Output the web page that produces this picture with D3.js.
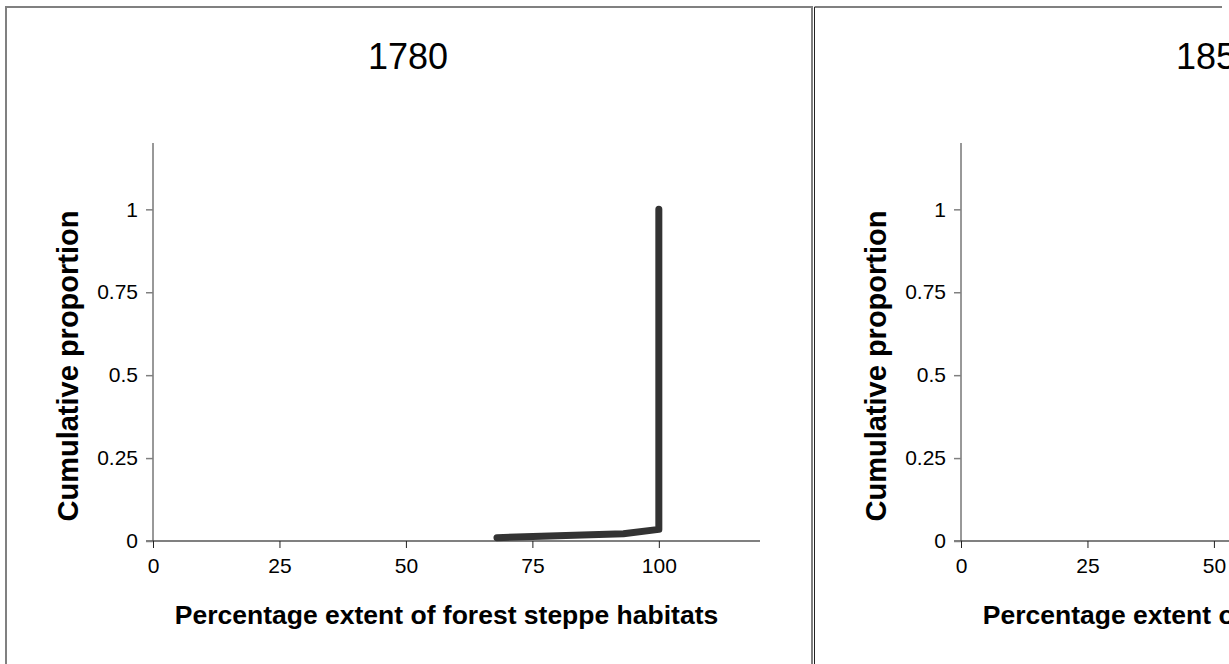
<!DOCTYPE html>
<html>
<head>
<meta charset="utf-8">
<script src="https://cdn.jsdelivr.net/npm/d3@7"></script>
<style>
  body { margin: 0; background: #fff; }
  text { font-family: "Liberation Sans", Arial, sans-serif; fill: #000; }
</style>
</head>
<body>
<svg id="chart" width="1229" height="664"></svg>
<script>
// panel titles (years)
var years = ["1780", "1850"];

// cumulative curve for 1780 (x = % extent, y = cumulative proportion)
var ext1780 = [68, 80, 93, 100, 100];
var cum1780 = [0.01, 0.016, 0.022, 0.035, 1];

// 1850 curve lies outside the visible part of the picture
var ext1850 = [];
var cum1850 = [];

var xTicks = [0, 25, 50, 75, 100];
var yTicks = [0, 0.25, 0.5, 0.75, 1];
var xLabel = "Percentage extent of forest steppe habitats";
var yLabel = "Cumulative proportion";

var series = [
  d3.zip(ext1780, cum1780),
  d3.zip(ext1850, cum1850)
];

var svg = d3.select("#chart");

var panelLeft = [6, 814],
    panelTop = 7,
    plotLeft = 147, plotRight = 754,
    plotTop = 143, plotBottom = 541;

var x = d3.scaleLinear().domain([0, 120]).range([plotLeft, plotRight]);
var y = d3.scaleLinear().domain([0, 1.2]).range([plotBottom, plotTop]);

// panel frames
svg.append("rect")
    .attr("x", panelLeft[0]).attr("y", panelTop)
    .attr("width", 806).attr("height", 700)
    .attr("fill", "none").attr("stroke", "#808080").attr("stroke-width", 2);
svg.append("line")
    .attr("x1", panelLeft[1] + 0.5).attr("x2", 1222)
    .attr("y1", panelTop).attr("y2", panelTop)
    .attr("stroke", "#808080").attr("stroke-width", 2);
svg.append("line")
    .attr("x1", panelLeft[1] + 0.5).attr("x2", panelLeft[1] + 0.5)
    .attr("y1", panelTop).attr("y2", 664)
    .attr("stroke", "#222").attr("stroke-width", 1);

var line = d3.line()
    .x(function(d) { return x(d[0]); })
    .y(function(d) { return y(d[1]); });

years.forEach(function(yr, i) {
  var g = svg.append("g")
      .attr("transform", "translate(" + panelLeft[i] + ",0)");

  // title
  g.append("text")
      .attr("x", 402).attr("y", 69)
      .attr("text-anchor", "middle")
      .style("font-size", "36px")
      .text(yr);

  // x axis
  var xAxis = g.append("g")
      .attr("transform", "translate(0," + plotBottom + ")")
      .call(d3.axisBottom(x).tickValues(xTicks).tickSize(7).tickPadding(10)
            .tickFormat(d3.format("d")));
  xAxis.select(".domain")
      .attr("d", "M" + (plotLeft - 7) + ",0H" + plotRight)
      .attr("stroke", "#808080").attr("stroke-width", 2);
  xAxis.selectAll(".tick line").attr("stroke", "#222");
  xAxis.selectAll(".tick text")
      .style("font-size", "21px")
      .style("font-family", "Liberation Sans, Arial, sans-serif");

  // y axis
  var yAxis = g.append("g")
      .attr("transform", "translate(" + plotLeft + ",0)")
      .call(d3.axisLeft(y).tickValues(yTicks).tickSize(7).tickPadding(8)
            .tickFormat(function(d) { return d3.format("")(d); }));
  yAxis.select(".domain")
      .attr("d", "M0," + plotTop + "V" + plotBottom)
      .attr("stroke", "#333").attr("stroke-width", 1);
  yAxis.selectAll(".tick line").attr("stroke", "#808080").attr("stroke-width", 1.5);
  yAxis.selectAll(".tick text")
      .style("font-size", "21px")
      .style("font-family", "Liberation Sans, Arial, sans-serif");

  // axis titles
  g.append("text")
      .attr("x", 440.5).attr("y", 624)
      .attr("text-anchor", "middle")
      .style("font-size", "26.5px").style("font-weight", "bold")
      .text(xLabel);

  g.append("text")
      .attr("transform", "translate(72,366) rotate(-90)")
      .attr("text-anchor", "middle")
      .style("font-size", "29px").style("font-weight", "bold")
      .text(yLabel);

  // cumulative curve
  if (series[i].length) {
    g.append("path")
        .datum(series[i])
        .attr("d", line)
        .attr("fill", "none")
        .attr("stroke", "#333")
        .attr("stroke-width", 7)
        .attr("stroke-linecap", "round")
        .attr("stroke-linejoin", "round");
  }
});
</script>
</body>
</html>
